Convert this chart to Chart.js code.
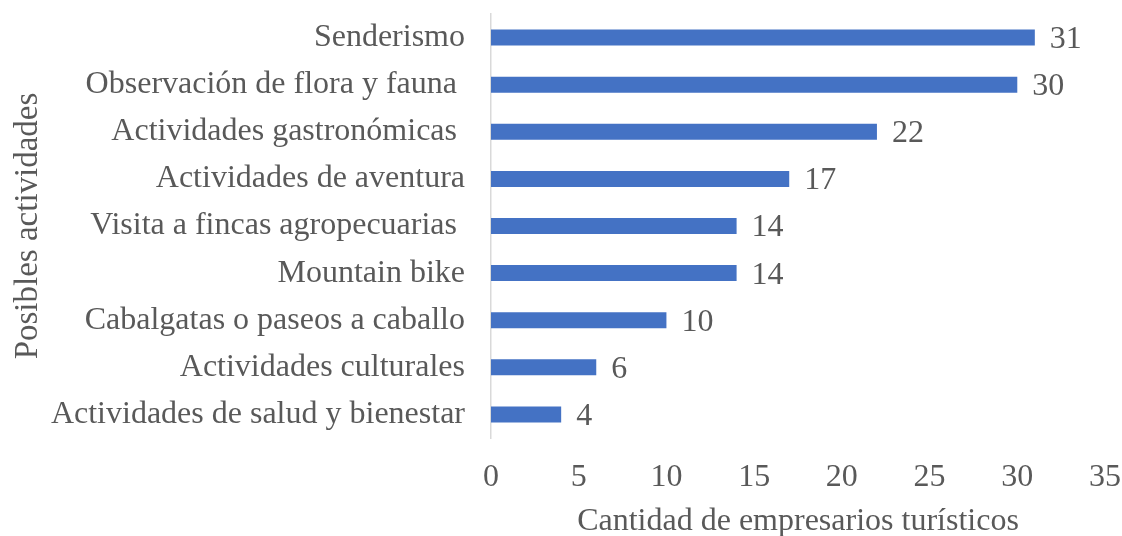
<!DOCTYPE html>
<html>
<head>
<meta charset="utf-8">
<script src="https://cdn.jsdelivr.net/npm/chart.js@4"></script>
<style>
  html, body { margin: 0; padding: 0; background: #fff; }
  #wrap { width: 1122px; height: 536px; }
</style>
</head>
<body>
<div id="wrap"><canvas id="actividadesChart" width="1122" height="536"></canvas></div>
<script>
// Actividades y número de empresarios que las mencionan
const actividades = [
  "Senderismo",
  "Observación de flora y fauna ",
  "Actividades gastronómicas ",
  "Actividades de aventura",
  "Visita a fincas agropecuarias ",
  "Mountain bike",
  "Cabalgatas o paseos a caballo",
  "Actividades culturales",
  "Actividades de salud y bienestar"
];
const empresarios = [31, 30, 22, 17, 14, 14, 10, 6, 4];
const ejeX = { min: 0, max: 35, step: 5 };

const textColor = "#595959";
const fontFamily = "'Liberation Serif', 'Times New Roman', serif";

// Escribe el valor al final de cada barra
const valueLabels = {
  id: "valueLabels",
  afterDatasetsDraw(chart) {
    const ctx = chart.ctx;
    const meta = chart.getDatasetMeta(0);
    ctx.save();
    ctx.font = "32px " + fontFamily;
    ctx.fillStyle = textColor;
    ctx.textAlign = "left";
    ctx.textBaseline = "middle";
    meta.data.forEach((bar, i) => {
      ctx.fillText(String(empresarios[i]), bar.x + 15, bar.y + 2);
    });
    ctx.restore();
  }
};

const ctx = document.getElementById("actividadesChart").getContext("2d");
new Chart(ctx, {
  type: "bar",
  data: {
    labels: actividades,
    datasets: [{
      data: empresarios,
      backgroundColor: "#4472C4",
      borderWidth: 0,
      barPercentage: 0.34,
      categoryPercentage: 1
    }]
  },
  plugins: [valueLabels],
  options: {
    indexAxis: "y",
    responsive: false,
    animation: false,
    layout: { padding: { top: 14, right: 0, bottom: 0, left: 0 } },
    plugins: {
      legend: { display: false },
      tooltip: { enabled: false }
    },
    scales: {
      x: {
        min: ejeX.min,
        max: ejeX.max,
        ticks: {
          stepSize: ejeX.step,
          color: textColor,
          font: { family: fontFamily, size: 32 },
          padding: 20
        },
        grid: { display: false, drawTicks: false },
        border: { display: false },
        title: {
          display: true,
          text: "Cantidad de empresarios turísticos",
          color: textColor,
          font: { family: fontFamily, size: 32 },
          padding: { top: 0, bottom: -5 }
        },
        afterFit(scale) {
          scale.height = 98;
          scale.paddingLeft = 0;
          scale.paddingRight = 17;
        }
      },
      y: {
        ticks: {
          color: textColor,
          font: { family: fontFamily, size: 32 },
          padding: 26
        },
        grid: { display: false, drawTicks: false },
        border: { display: true, color: "#d9d9d9", width: 1.5 },
        title: {
          display: true,
          text: "Posibles actividades",
          color: textColor,
          font: { family: fontFamily, size: 33 },
          padding: { top: 9, bottom: 0 }
        },
        afterFit(scale) {
          scale.width = 491;
          scale.paddingTop = 0;
          scale.paddingBottom = 0;
        }
      }
    }
  }
});
</script>
</body>
</html>
